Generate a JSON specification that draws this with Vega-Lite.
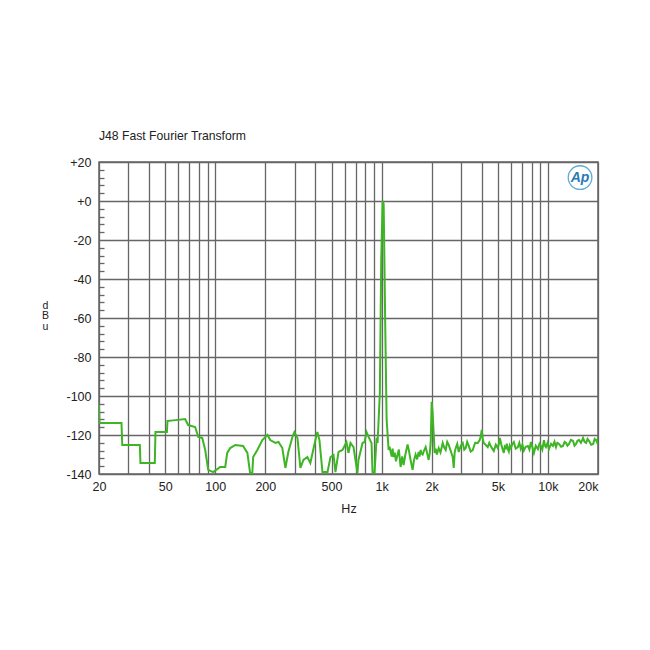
{
  "$schema": "https://vega.github.io/schema/vega-lite/v6.json",
  "autosize": "none",
  "width": 499,
  "height": 312,
  "padding": {"left": 99, "top": 162, "right": 52, "bottom": 176},
  "background": "white",
  "title": {"text": "J48 Fast Fourier Transform", "anchor": "start", "frame": "group", "fontSize": 12.2, "font": "Liberation Sans", "fontWeight": "normal", "color": "#222", "offset": 14},
  "config": {
    "view": {"stroke": "#666", "strokeWidth": 1.5},
    "axis": {"labelFont": "Liberation Sans", "titleFont": "Liberation Sans", "labelFontSize": 12.5, "labelColor": "#222", "titleFontWeight": "normal", "titleFontSize": 12.5, "titleColor": "#222"}
  },
  "layer": [
    {
      "data": {"values": [
        {"freq": 20, "db": -104.5}, {"freq": 20.15, "db": -113.8}, {"freq": 27.3, "db": -113.8}, {"freq": 27.6, "db": -125.1},
        {"freq": 35.2, "db": -125.1}, {"freq": 35.5, "db": -134.4}, {"freq": 43.3, "db": -134.4}, {"freq": 43.7, "db": -118.5},
        {"freq": 51.2, "db": -118.5}, {"freq": 51.6, "db": -112.8}, {"freq": 56, "db": -112.5}, {"freq": 65.9, "db": -111.8},
        {"freq": 68.7, "db": -114.9}, {"freq": 75.7, "db": -115.9}, {"freq": 79, "db": -121}, {"freq": 83.5, "db": -121.5},
        {"freq": 87, "db": -127.7}, {"freq": 90.7, "db": -137.9}, {"freq": 97.2, "db": -139}, {"freq": 107, "db": -136.4},
        {"freq": 114.8, "db": -136.4}, {"freq": 118, "db": -129.2}, {"freq": 123, "db": -126.7}, {"freq": 132, "db": -125.1},
        {"freq": 147, "db": -125.6}, {"freq": 156, "db": -129.2}, {"freq": 162, "db": -139.5}, {"freq": 167, "db": -139.5},
        {"freq": 169, "db": -131.3}, {"freq": 179, "db": -127.7}, {"freq": 192, "db": -122.6}, {"freq": 206, "db": -120},
        {"freq": 214, "db": -122.6}, {"freq": 230, "db": -124.1}, {"freq": 240, "db": -123.6}, {"freq": 253, "db": -126.7},
        {"freq": 264, "db": -136.9}, {"freq": 275, "db": -128.7}, {"freq": 291, "db": -121}, {"freq": 299, "db": -118.5},
        {"freq": 312, "db": -121.5}, {"freq": 325, "db": -136.9}, {"freq": 339, "db": -132.8}, {"freq": 358, "db": -131.3},
        {"freq": 373, "db": -134.4}, {"freq": 400, "db": -122.6}, {"freq": 411, "db": -118.5}, {"freq": 423, "db": -122.6},
        {"freq": 441, "db": -139}, {"freq": 473, "db": -139}, {"freq": 493, "db": -131.3}, {"freq": 514, "db": -130.3},
        {"freq": 528, "db": -139}, {"freq": 551, "db": -128.7}, {"freq": 582, "db": -127.7}, {"freq": 615, "db": -123.6},
        {"freq": 632, "db": -129.2}, {"freq": 650, "db": -124.1}, {"freq": 678, "db": -126.2}, {"freq": 716, "db": -139.5},
        {"freq": 726, "db": -132.8}, {"freq": 768, "db": -124.1}, {"freq": 790, "db": -123.6}, {"freq": 812, "db": -118.5},
        {"freq": 835, "db": -121}, {"freq": 870, "db": -124.1}, {"freq": 882, "db": -139}, {"freq": 907, "db": -139.5},
        {"freq": 933, "db": -121.5}, {"freq": 946, "db": -124.1}, {"freq": 976, "db": -98.5}, {"freq": 995, "db": -30},
        {"freq": 1014, "db": 0}, {"freq": 1029, "db": -1.5}, {"freq": 1052, "db": -64.6}, {"freq": 1072, "db": -112},
        {"freq": 1102, "db": -127.7}, {"freq": 1117, "db": -126}, {"freq": 1132, "db": -128.5}, {"freq": 1150, "db": -131},
        {"freq": 1165, "db": -127}, {"freq": 1180, "db": -131.3}, {"freq": 1200, "db": -129}, {"freq": 1220, "db": -133.5},
        {"freq": 1248, "db": -130}, {"freq": 1270, "db": -127.5}, {"freq": 1301, "db": -136.4}, {"freq": 1330, "db": -131},
        {"freq": 1356, "db": -135.4}, {"freq": 1390, "db": -130}, {"freq": 1433, "db": -124.9}, {"freq": 1460, "db": -128},
        {"freq": 1494, "db": -132.8}, {"freq": 1536, "db": -137.9}, {"freq": 1565, "db": -133}, {"freq": 1601, "db": -130},
        {"freq": 1635, "db": -132.5}, {"freq": 1669, "db": -128.7}, {"freq": 1690, "db": -131}, {"freq": 1718, "db": -127.7},
        {"freq": 1740, "db": -129.5}, {"freq": 1766, "db": -130}, {"freq": 1800, "db": -128}, {"freq": 1841, "db": -126.2},
        {"freq": 1875, "db": -129}, {"freq": 1918, "db": -132.8}, {"freq": 1950, "db": -129}, {"freq": 1975, "db": -123},
        {"freq": 2000, "db": -103}, {"freq": 2025, "db": -108}, {"freq": 2056, "db": -119}, {"freq": 2085, "db": -129.2},
        {"freq": 2114, "db": -127}, {"freq": 2150, "db": -130}, {"freq": 2204, "db": -126.7}, {"freq": 2260, "db": -129},
        {"freq": 2330, "db": -124.1}, {"freq": 2380, "db": -126.5}, {"freq": 2428, "db": -127.7}, {"freq": 2480, "db": -123.5},
        {"freq": 2532, "db": -125.1}, {"freq": 2600, "db": -128}, {"freq": 2677, "db": -131.3}, {"freq": 2715, "db": -136.9},
        {"freq": 2750, "db": -129}, {"freq": 2791, "db": -126.7}, {"freq": 2850, "db": -124.5}, {"freq": 2909, "db": -128.7},
        {"freq": 2990, "db": -125.5}, {"freq": 3075, "db": -124.1}, {"freq": 3140, "db": -127.5}, {"freq": 3206, "db": -126.7},
        {"freq": 3270, "db": -123.5}, {"freq": 3342, "db": -125.6}, {"freq": 3430, "db": -128.5}, {"freq": 3532, "db": -127.7},
        {"freq": 3650, "db": -124}, {"freq": 3786, "db": -124.1}, {"freq": 3891, "db": -122.6}, {"freq": 3950, "db": -120.5},
        {"freq": 4000, "db": -117.4}, {"freq": 4060, "db": -122}, {"freq": 4113, "db": -124.1}, {"freq": 4220, "db": -125},
        {"freq": 4346, "db": -126.2}, {"freq": 4440, "db": -124}, {"freq": 4531, "db": -125.6}, {"freq": 4630, "db": -127},
        {"freq": 4727, "db": -128.2}, {"freq": 4860, "db": -125}, {"freq": 4996, "db": -126.7}, {"freq": 5070, "db": -124.5},
        {"freq": 5136, "db": -121.5}, {"freq": 5250, "db": -125}, {"freq": 5354, "db": -127.7}, {"freq": 5429, "db": -129.2},
        {"freq": 5500, "db": -126}, {"freq": 5582, "db": -126.7}, {"freq": 5660, "db": -124.5}, {"freq": 5739, "db": -127.2},
        {"freq": 5819, "db": -128.5}, {"freq": 5900, "db": -125.5}, {"freq": 5984, "db": -126.7}, {"freq": 6100, "db": -124.8},
        {"freq": 6237, "db": -123.6}, {"freq": 6400, "db": -127}, {"freq": 6594, "db": -126.2}, {"freq": 6730, "db": -124},
        {"freq": 6874, "db": -127.2}, {"freq": 7020, "db": -125}, {"freq": 7167, "db": -128}, {"freq": 7350, "db": -126},
        {"freq": 7577, "db": -125.6}, {"freq": 7740, "db": -127.5}, {"freq": 7900, "db": -123.6}, {"freq": 8050, "db": -126},
        {"freq": 8236, "db": -129.2}, {"freq": 8450, "db": -125.5}, {"freq": 8707, "db": -127.2}, {"freq": 8900, "db": -124.5},
        {"freq": 9078, "db": -125.6}, {"freq": 9250, "db": -127.5}, {"freq": 9464, "db": -122.6}, {"freq": 9600, "db": -125.5},
        {"freq": 9728, "db": -126.2}, {"freq": 9950, "db": -124}, {"freq": 10142, "db": -127.2}, {"freq": 10450, "db": -124.5},
        {"freq": 10723, "db": -125.6}, {"freq": 10950, "db": -123.5}, {"freq": 11179, "db": -126.2}, {"freq": 11400, "db": -124},
        {"freq": 11654, "db": -124.6}, {"freq": 12000, "db": -126}, {"freq": 12321, "db": -125.6}, {"freq": 12600, "db": -123.5},
        {"freq": 12846, "db": -124.1}, {"freq": 13100, "db": -125.5}, {"freq": 13392, "db": -124.6}, {"freq": 13750, "db": -122.5},
        {"freq": 14159, "db": -123.1}, {"freq": 14450, "db": -125.5}, {"freq": 14761, "db": -124.6}, {"freq": 15050, "db": -123},
        {"freq": 15388, "db": -122.6}, {"freq": 15800, "db": -124}, {"freq": 16270, "db": -121.5}, {"freq": 16600, "db": -123.5},
        {"freq": 16962, "db": -124.1}, {"freq": 17300, "db": -122}, {"freq": 17683, "db": -123.1}, {"freq": 18200, "db": -125},
        {"freq": 18696, "db": -124.6}, {"freq": 19100, "db": -122}, {"freq": 19491, "db": -122.6}, {"freq": 19800, "db": -124},
        {"freq": 20000, "db": -121.5}
      ]},
      "mark": {"type": "line", "color": "#3db524", "strokeWidth": 2, "clip": true},
      "encoding": {
        "x": {
          "field": "freq", "type": "quantitative",
          "scale": {"type": "log", "domain": [20, 20000], "nice": false},
          "axis": {
            "values": [20, 30, 40, 50, 60, 70, 80, 90, 100, 200, 300, 400, 500, 600, 700, 800, 900, 1000, 2000, 3000, 4000, 5000, 6000, 7000, 8000, 9000, 10000, 20000],
            "tickCount": 100,
            "labelExpr": "indexof([20,50,100,200,500,1000,2000,5000,10000,20000], datum.value) >= 0 ? (datum.value >= 1000 ? (datum.value/1000) + 'k' : '' + datum.value) : ''",
            "grid": true, "gridColor": "#666", "gridWidth": 1.3, "gridOpacity": 1,
            "ticks": false, "domain": false, "labelPadding": 6, "labelOverlap": false, "labelFlush": false,
            "labelAlign": {"condition": {"test": "datum.value == 20000", "value": "right"}, "value": "center"},
            "title": "Hz", "titlePadding": 10
          }
        },
        "y": {
          "field": "db", "type": "quantitative",
          "scale": {"domain": [-140, 20], "nice": false},
          "axis": {
            "values": [-140, -136, -132, -128, -124, -120, -116, -112, -108, -104, -100, -96, -92, -88, -84, -80, -76, -72, -68, -64, -60, -56, -52, -48, -44, -40, -36, -32, -28, -24, -20, -16, -12, -8, -4, 0, 4, 8, 12, 16, 20],
            "tickCount": 100,
            "labelExpr": "datum.value % 20 == 0 ? (datum.value >= 0 ? '+' + datum.value : '' + datum.value) : ''",
            "grid": true, "gridColor": "#666", "gridWidth": 1.3,
            "gridOpacity": {"condition": {"test": "datum.value % 20 == 0", "value": 1}, "value": 0},
            "tickSize": {"condition": {"test": "datum.value % 20 == 0", "value": 0}, "value": -5},
            "tickColor": "#666", "tickWidth": 1.3,
            "domain": false, "labelPadding": 8, "labelOverlap": false,
            "title": ["d", "B", "u"], "titleAngle": 0, "titleFontSize": 10.5, "titleLineHeight": 10.5,
            "titleX": -54, "titleY": 138, "titleAlign": "center", "titleBaseline": "top"
          }
        }
      }
    },
    {
      "data": {"values": [{"logo": "Ap", "f": 15600, "db": 12}]},
      "layer": [
        {
          "mark": {"type": "point", "shape": "circle", "filled": false, "size": 560, "stroke": "#2a8fc8", "strokeWidth": 1.3, "opacity": 0.75},
          "encoding": {
            "x": {"field": "f", "type": "quantitative"},
            "y": {"field": "db", "type": "quantitative"}
          }
        },
        {
          "mark": {"type": "text", "font": "Liberation Sans", "fontStyle": "italic", "fontWeight": "bold", "fontSize": 14, "color": "#2a7ab8"},
          "encoding": {
            "x": {"field": "f", "type": "quantitative"},
            "y": {"field": "db", "type": "quantitative"},
            "text": {"field": "logo"}
          }
        }
      ]
    }
  ]
}
